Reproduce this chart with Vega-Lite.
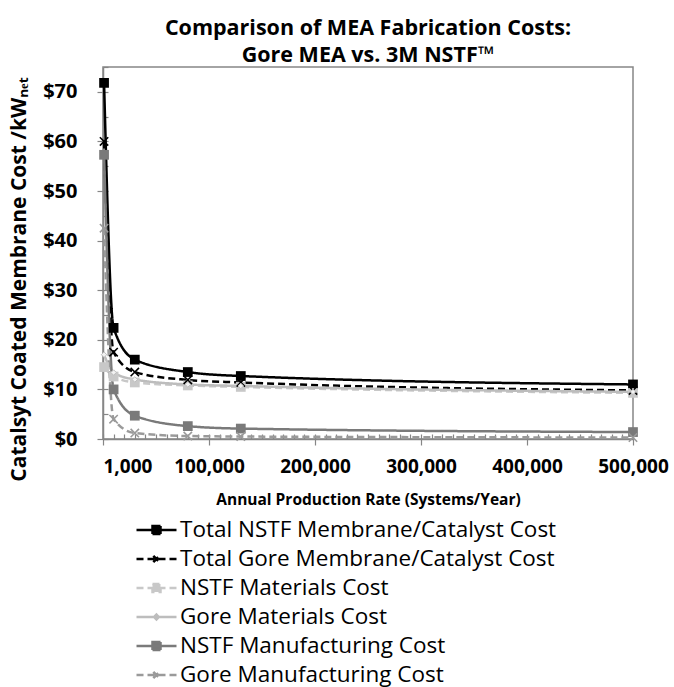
{
  "$schema": "https://vega.github.io/schema/vega-lite/v6.json",
  "width": 530,
  "height": 372,
  "autosize": {"type": "none"},
  "padding": {"left": 103, "top": 67, "right": 41, "bottom": 248},
  "background": "white",
  "config": {
    "view": {"stroke": "#868686", "strokeWidth": 1.5},
    "axis": {"labelFont": "Open Sans", "labelFontWeight": "bold", "labelFontSize": 19, "labelColor": "#000", "labelFlush": false, "labelOverlap": false, "domainColor": "#868686", "domainWidth": 1.5, "tickColor": "#868686", "tickWidth": 1.2, "grid": false, "titleColor": "#000", "titleFont": "Open Sans", "titleFontWeight": "bold"}
  },
  "title": {"text": ["Comparison of MEA Fabrication Costs:", "Gore MEA vs. 3M NSTF™"], "anchor": "middle", "font": "Open Sans", "fontSize": 21.5, "fontWeight": "bold", "lineHeight": 27, "offset": 0, "color": "#000"},
  "data": {"values": [
    {"rate": 1000, "series": "Total NSTF Membrane/Catalyst Cost", "cost": 71.8},
    {"rate": 10000, "series": "Total NSTF Membrane/Catalyst Cost", "cost": 22.4},
    {"rate": 30000, "series": "Total NSTF Membrane/Catalyst Cost", "cost": 16.0},
    {"rate": 80000, "series": "Total NSTF Membrane/Catalyst Cost", "cost": 13.5},
    {"rate": 130000, "series": "Total NSTF Membrane/Catalyst Cost", "cost": 12.7},
    {"rate": 500000, "series": "Total NSTF Membrane/Catalyst Cost", "cost": 11.0},
    {"rate": 1000, "series": "Total Gore Membrane/Catalyst Cost", "cost": 60.0},
    {"rate": 10000, "series": "Total Gore Membrane/Catalyst Cost", "cost": 17.5},
    {"rate": 30000, "series": "Total Gore Membrane/Catalyst Cost", "cost": 13.5},
    {"rate": 80000, "series": "Total Gore Membrane/Catalyst Cost", "cost": 11.9},
    {"rate": 130000, "series": "Total Gore Membrane/Catalyst Cost", "cost": 11.4},
    {"rate": 500000, "series": "Total Gore Membrane/Catalyst Cost", "cost": 9.8},
    {"rate": 1000, "series": "NSTF Materials Cost", "cost": 14.5},
    {"rate": 10000, "series": "NSTF Materials Cost", "cost": 12.6},
    {"rate": 30000, "series": "NSTF Materials Cost", "cost": 11.4},
    {"rate": 80000, "series": "NSTF Materials Cost", "cost": 10.8},
    {"rate": 130000, "series": "NSTF Materials Cost", "cost": 10.5},
    {"rate": 500000, "series": "NSTF Materials Cost", "cost": 9.3},
    {"rate": 1000, "series": "Gore Materials Cost", "cost": 17.0},
    {"rate": 10000, "series": "Gore Materials Cost", "cost": 13.4},
    {"rate": 30000, "series": "Gore Materials Cost", "cost": 12.0},
    {"rate": 80000, "series": "Gore Materials Cost", "cost": 11.0},
    {"rate": 130000, "series": "Gore Materials Cost", "cost": 10.7},
    {"rate": 500000, "series": "Gore Materials Cost", "cost": 9.5},
    {"rate": 1000, "series": "NSTF Manufacturing Cost", "cost": 57.3},
    {"rate": 10000, "series": "NSTF Manufacturing Cost", "cost": 10.0},
    {"rate": 30000, "series": "NSTF Manufacturing Cost", "cost": 4.7},
    {"rate": 80000, "series": "NSTF Manufacturing Cost", "cost": 2.6},
    {"rate": 130000, "series": "NSTF Manufacturing Cost", "cost": 2.1},
    {"rate": 500000, "series": "NSTF Manufacturing Cost", "cost": 1.4},
    {"rate": 1000, "series": "Gore Manufacturing Cost", "cost": 42.5},
    {"rate": 10000, "series": "Gore Manufacturing Cost", "cost": 4.0},
    {"rate": 30000, "series": "Gore Manufacturing Cost", "cost": 1.2},
    {"rate": 80000, "series": "Gore Manufacturing Cost", "cost": 0.6},
    {"rate": 130000, "series": "Gore Manufacturing Cost", "cost": 0.5},
    {"rate": 500000, "series": "Gore Manufacturing Cost", "cost": 0.3}
  ]},
  "resolve": {"axis": {"x": "independent", "y": "independent"}},
  "layer": [
    {
      "mark": {"type": "line", "interpolate": "monotone", "strokeWidth": 2.5},
      "encoding": {
        "x": {"field": "rate", "type": "quantitative", "scale": {"domain": [0, 500000], "nice": false},
          "axis": {"orient": "bottom", "values": [0, 100000, 200000, 300000, 400000, 500000], "labelExpr": "datum.value == 0 ? '1,000' : format(datum.value, ',')", "labelAlign": {"condition": {"test": "datum.value == 0", "value": "left"}, "value": "center"}, "tickSize": 6, "labelPadding": 12, "title": "Annual Production Rate (Systems/Year)", "titleFontSize": 15.5, "titleY": 53}},
        "y": {"field": "cost", "type": "quantitative", "scale": {"domain": [0, 75], "nice": false},
          "axis": {"orient": "left", "values": [0, 10, 20, 30, 40, 50, 60, 70], "format": "$,.0f", "tickSize": 6, "labelPadding": 20, "labelFontSize": 20, "title": "Catalsyt Coated Membrane Cost /kWₙₑₜ", "titleFontSize": 21, "titleX": -84, "titleY": 212, "titleBaseline": "middle"}},
        "color": {"field": "series", "type": "nominal",
          "scale": {"domain": ["Total NSTF Membrane/Catalyst Cost", "Total Gore Membrane/Catalyst Cost", "NSTF Materials Cost", "Gore Materials Cost", "NSTF Manufacturing Cost", "Gore Manufacturing Cost"], "range": ["#000000", "#000000", "#c8c8c8", "#bdbdbd", "#7a7a7a", "#9a9a9a"]},
          "legend": {"orient": "none", "legendX": 32, "legendY": 453, "direction": "vertical", "title": null, "padding": 0, "symbolSize": 1600, "symbolStrokeWidth": 2.5, "labelFont": "Open Sans", "labelFontSize": 22.5, "labelColor": "#000", "labelOffset": 2, "labelLimit": 600, "clipHeight": 20, "rowPadding": 6,
            "encode": {"symbols": {"update": {
              "shape": {"signal": "datum.value == 'Gore Materials Cost' ? 'M-1,0H1M0,-0.12L0.12,0L0,0.12L-0.12,0Z' : (indexof(datum.value, 'Gore') >= 0 ? 'M-1,0H1M-0.16,-0.16L0.16,0.16M-0.16,0.16L0.16,-0.16' : 'M-1,0H1M-0.2,-0.2H0.2V0.2H-0.2Z')"},
              "fill": {"scale": "color", "field": "value"},
              "stroke": {"scale": "color", "field": "value"},
              "strokeDash": {"scale": "strokeDash", "field": "value"}
            }}}}},
        "strokeDash": {"field": "series", "type": "nominal",
          "scale": {"domain": ["Total NSTF Membrane/Catalyst Cost", "Total Gore Membrane/Catalyst Cost", "NSTF Materials Cost", "Gore Materials Cost", "NSTF Manufacturing Cost", "Gore Manufacturing Cost"], "range": [[1, 0], [7, 4], [7, 4], [1, 0], [1, 0], [7, 4]]}}
      }
    },
    {
      "transform": [{"filter": {"field": "series", "oneOf": ["Total NSTF Membrane/Catalyst Cost", "NSTF Materials Cost", "NSTF Manufacturing Cost"]}}],
      "mark": {"type": "point", "shape": "square", "filled": true, "size": 95, "opacity": 1},
      "encoding": {
        "x": {"field": "rate", "type": "quantitative", "axis": {"orient": "bottom", "tickCount": 50, "labels": false, "domain": false, "tickSize": -5, "title": null}},
        "y": {"field": "cost", "type": "quantitative", "axis": {"orient": "left", "tickCount": 15, "labels": false, "domain": false, "tickSize": -5, "title": null}},
        "color": {"field": "series", "type": "nominal"}
      }
    },
    {
      "transform": [{"filter": {"field": "series", "oneOf": ["Total Gore Membrane/Catalyst Cost", "Gore Manufacturing Cost"]}}],
      "mark": {"type": "point", "shape": "M-1,-1L1,1M-1,1L1,-1", "filled": false, "size": 70, "strokeWidth": 1.6, "opacity": 1},
      "encoding": {
        "x": {"field": "rate", "type": "quantitative", "axis": null},
        "y": {"field": "cost", "type": "quantitative", "axis": null},
        "color": {"field": "series", "type": "nominal"}
      }
    },
    {
      "transform": [{"filter": {"field": "series", "equal": "Gore Materials Cost"}}],
      "mark": {"type": "point", "shape": "diamond", "filled": true, "size": 30, "fill": "#f2f2f2", "stroke": "#bdbdbd", "strokeWidth": 1, "opacity": 1},
      "encoding": {
        "x": {"field": "rate", "type": "quantitative", "axis": null},
        "y": {"field": "cost", "type": "quantitative", "axis": null}
      }
    }
  ]
}
